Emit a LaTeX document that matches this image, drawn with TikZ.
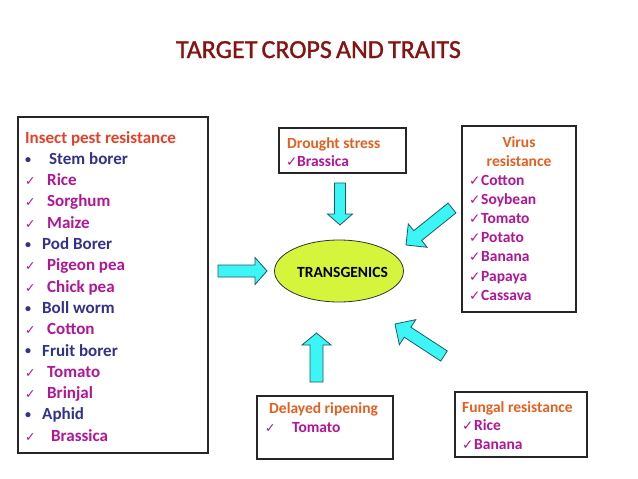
\documentclass[tikz,border=0pt]{standalone}
\usepackage{fontspec}
\setmainfont{Carlito}
\newfontfamily\dejavu{DejaVu Sans}
\newfontfamily\titlefont[FakeBold=1.2]{Carlito}
\usetikzlibrary{calc,shapes.geometric}
\definecolor{titlered}{RGB}{135,18,18}
\definecolor{headred}{RGB}{232,64,40}
\definecolor{headorange}{RGB}{228,96,32}
\definecolor{navy}{RGB}{50,50,140}
\definecolor{mag}{RGB}{176,22,150}
\definecolor{arrowfill}{RGB}{60,245,245}
\definecolor{arrowline}{RGB}{30,90,110}
\definecolor{ellfill}{RGB}{212,245,60}
\newcommand\blockarrow[5]{%
  \coordinate (#1-hb) at ($(#2)!#5!(#1)$);
  \draw[arrowsty] ($(#1)!#3!90:(#2)$) -- ($(#1-hb)!#3!90:(#2)$) -- ($(#1-hb)!#4!90:(#2)$)
    -- (#2) -- ($(#1-hb)!#4!-90:(#2)$) -- ($(#1-hb)!#3!-90:(#2)$) -- ($(#1)!#3!-90:(#2)$) -- cycle;}
\begin{document}
\begin{tikzpicture}[x=1pt,y=-1pt,
  box/.style={draw=black!85, line width=1.1pt, inner sep=0, fill=white},
  big/.style={anchor=base west, inner sep=0, font=\bfseries\fontsize{17}{20}\selectfont},
  med/.style={anchor=base west, inner sep=0, font=\bfseries\fontsize{15.5}{18}\selectfont},
  bigchk/.style={anchor=base west, inner sep=0, text=mag, font=\dejavu\fontsize{12.5}{13}\selectfont},
  medchk/.style={anchor=base west, inner sep=0, text=mag, font=\dejavu\fontsize{13.5}{14}\selectfont},
  bul/.style={anchor=base west, inner sep=0, text=navy, font=\bfseries\fontsize{12}{14}\selectfont},
  arrowsty/.style={fill=arrowfill, draw=arrowline, line width=0.8pt, line join=miter},
]
\useasboundingbox (0,0) rectangle (638,479);
\fill[white] (0,0) rectangle (638,479);

% title
\node[anchor=base, inner sep=0, text=titlered, font=\titlefont\fontsize{26}{29}\selectfont] (title) at (318.5,58) {\spaceskip=0.16em\relax TARGET CROPS AND TRAITS};

% boxes
\node[box, minimum width=190pt, minimum height=336pt] (insect) at (113,285) {};
\node[box, minimum width=127pt, minimum height=45pt] (drought) at (342.5,150.5) {};
\node[box, minimum width=114pt, minimum height=186pt] (virus) at (519,219) {};
\node[box, minimum width=136pt, minimum height=63pt] (delayed) at (325,427.5) {};
\node[box, minimum width=132pt, minimum height=65pt] (fungal) at (521,424.5) {};

% ellipse
\node[draw=black!80, line width=0.8pt, ellipse, fill=ellfill, minimum width=129pt, minimum height=62pt, inner sep=0] (trans) at (339,271) {};
\node[anchor=base, inner sep=0, font=\bfseries\fontsize{15.5}{18}\selectfont] (transtext) at (342.5,277.5) {TRANSGENICS};

% insect box text
\node[big, text=headred] (i0) at (25,143) {Insect pest resistance};
\node[bul] (b1) at (25,163) {•};  \node[big, text=navy] (i1) at (49,164.3) {Stem borer};
\node[bigchk] (c2) at (25,185.6) {✓}; \node[big, text=mag] (i2) at (47,185.6) {Rice};
\node[bigchk] (c3) at (25,206.9) {✓}; \node[big, text=mag] (i3) at (47,206.9) {Sorghum};
\node[bigchk] (c4) at (25,228.2) {✓}; \node[big, text=mag] (i4) at (47,228.2) {Maize};
\node[bul] (b5) at (25,248.2) {•};  \node[big, text=navy] (i5) at (42,249.5) {Pod Borer};
\node[bigchk] (c6) at (25,270.8) {✓}; \node[big, text=mag] (i6) at (47,270.8) {Pigeon pea};
\node[bigchk] (c7) at (25,292.1) {✓}; \node[big, text=mag] (i7) at (47,292.1) {Chick pea};
\node[bul] (b8) at (25,312.1) {•};  \node[big, text=navy] (i8) at (42,313.4) {Boll worm};
\node[bigchk] (c9) at (25,334.7) {✓}; \node[big, text=mag] (i9) at (47,334.7) {Cotton};
\node[bul] (b10) at (25,354.7) {•};  \node[big, text=navy] (i10) at (42,356) {Fruit borer};
\node[bigchk] (c11) at (25,377.3) {✓}; \node[big, text=mag] (i11) at (47,377.3) {Tomato};
\node[bigchk] (c12) at (25,398.6) {✓}; \node[big, text=mag] (i12) at (47,398.6) {Brinjal};
\node[bul] (b13) at (25,418.6) {•};  \node[big, text=navy] (i13) at (42,419.9) {Aphid};
\node[bigchk] (c14) at (25,441.2) {✓}; \node[big, text=mag] (i14) at (51,441.2) {Brassica};

% drought
\node[med, text=headorange] (d0) at (287,148) {Drought stress};
\node[medchk] (dc) at (286,166) {✓}; \node[med, text=mag] (d1) at (297,166) {Brassica};

% virus
\node[anchor=base, inner sep=0, font=\bfseries\fontsize{15.5}{18}\selectfont, text=headorange] (v0) at (519,147) {Virus};
\node[anchor=base, inner sep=0, font=\bfseries\fontsize{15.5}{18}\selectfont, text=headorange] (v00) at (519,166) {resistance};
\node[medchk] (vc1) at (469,185) {✓}; \node[med, text=mag] (v1) at (481,185) {Cotton};
\node[medchk] (vc2) at (469,204.2) {✓}; \node[med, text=mag] (v2) at (481,204.2) {Soybean};
\node[medchk] (vc3) at (469,223.4) {✓}; \node[med, text=mag] (v3) at (481,223.4) {Tomato};
\node[medchk] (vc4) at (469,242.6) {✓}; \node[med, text=mag] (v4) at (481,242.6) {Potato};
\node[medchk] (vc5) at (469,261.8) {✓}; \node[med, text=mag] (v5) at (481,261.8) {Banana};
\node[medchk] (vc6) at (469,281) {✓}; \node[med, text=mag] (v6) at (481,281) {Papaya};
\node[medchk] (vc7) at (469,300.2) {✓}; \node[med, text=mag] (v7) at (481,300.2) {Cassava};

% delayed
\node[med, text=headorange] (r0) at (269,413) {Delayed ripening};
\node[bigchk] (rc) at (265,432) {✓}; \node[med, text=mag] (r1) at (292,432) {Tomato};

% fungal
\node[med, text=headorange] (f0) at (462,412) {Fungal resistance};
\node[medchk] (fc1) at (462,430.5) {✓}; \node[med, text=mag] (f1) at (474,430.5) {Rice};
\node[medchk] (fc2) at (462,449.5) {✓}; \node[med, text=mag] (f2) at (474,449.5) {Banana};

% arrows
\coordinate (la) at (218,271); \coordinate (lb) at (267,271);
\coordinate (da) at (340,183); \coordinate (db) at (340,225);
\coordinate (ua) at (316.5,382); \coordinate (ub) at (316.5,333);
\coordinate (va) at (452,208); \coordinate (vb) at (406,245);
\coordinate (fa) at (444,356); \coordinate (fb) at (395,324);
\blockarrow{la}{lb}{6pt}{13.5pt}{12pt}
\blockarrow{da}{db}{5.5pt}{12.5pt}{11pt}
\blockarrow{ua}{ub}{6.5pt}{14.5pt}{12pt}
\blockarrow{va}{vb}{6.3pt}{15pt}{15pt}
\blockarrow{fa}{fb}{6pt}{15pt}{15pt}
\end{tikzpicture}
\end{document}
